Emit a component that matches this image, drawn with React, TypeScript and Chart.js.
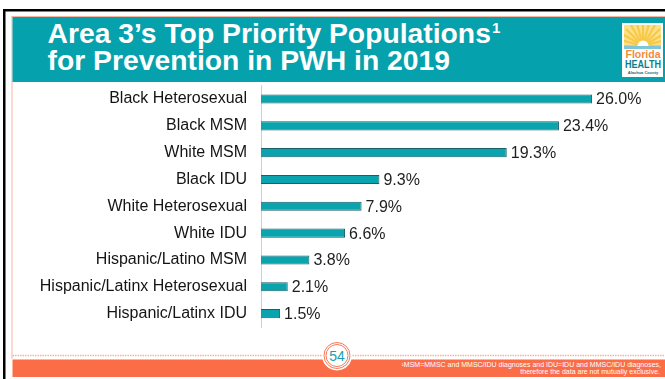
import React, { useEffect, useRef } from "react";
import { Chart, registerables } from "chart.js";

Chart.register(...registerables);

const categories = [
  "Black Heterosexual",
  "Black MSM",
  "White MSM",
  "Black IDU",
  "White Heterosexual",
  "White IDU",
  "Hispanic/Latino MSM",
  "Hispanic/Latinx Heterosexual",
  "Hispanic/Latinx IDU",
];
const percentValues = [26.0, 23.4, 19.3, 9.3, 7.9, 6.6, 3.8, 2.1, 1.5];
const titleLines = ["Area 3\u2019s Top Priority Populations", "for Prevention in PWH in 2019"];
const footnoteLines = [
  "\u00b9MSM=MMSC and MMSC/IDU diagnoses and IDU=IDU and MMSC/IDU diagnoses,",
  "therefore the data are not mutually exclusive.",
];
const pageNumber = "54";

const FONT = "'Liberation Sans', Arial, Helvetica, sans-serif";

const valueLabelPlugin = {
  id: "valueLabels",
  afterDatasetsDraw(chart: any) {
    const ctx = chart.ctx;
    const meta = chart.getDatasetMeta(0);
    const data = chart.data.datasets[0].data as number[];
    ctx.save();
    ctx.font = `16px ${FONT}`;
    ctx.fillStyle = "#1e1e1e";
    ctx.textAlign = "left";
    ctx.textBaseline = "middle";
    meta.data.forEach((bar: any, i: number) => {
      ctx.fillText(data[i].toFixed(1) + "%", bar.x + 4, bar.y + 1);
    });
    ctx.restore();
  },
};

function Logo() {
  const cx = 643;
  const cy = 46;
  const rays = [];
  for (let i = 0; i < 13; i++) {
    const a = Math.PI + (i / 12) * Math.PI;
    rays.push(
      <line
        key={i}
        x1={cx}
        y1={cy}
        x2={cx + Math.cos(a) * 24}
        y2={cy + Math.sin(a) * 24}
        stroke="#f7c948"
        strokeWidth={2.2}
      />
    );
  }
  return (
    <g>
      <rect x={622} y={23} width={41} height={54} fill="#ffffff" />
      <clipPath id="logoclip">
        <rect x={624} y={25} width={37} height={24} />
      </clipPath>
      <g clipPath="url(#logoclip)">
        <rect x={624} y={25} width={37} height={24} fill="#fde08a" />
        {rays}
        <circle cx={cx} cy={cy} r={5.5} fill="#ffffff" />
        <rect x={624} y={46} width={37} height={3} fill="#7fc6d8" />
      </g>
      <text x={643} y={58} textAnchor="middle" fontFamily={FONT} fontSize={10.5} fill="#f58a3c" fontWeight="bold">
        Florida
      </text>
      <text x={643} y={68} textAnchor="middle" fontFamily={FONT} fontSize={10.5} fill="#0a7f8c" fontWeight="bold" textLength={36} lengthAdjust="spacingAndGlyphs">
        HEALTH
      </text>
      <text x={643} y={74} textAnchor="middle" fontFamily={FONT} fontSize={4} fill="#0a6f7c" fontWeight="bold">
        Alachua County
      </text>
    </g>
  );
}

export default function App() {
  const canvasRef = useRef<HTMLCanvasElement | null>(null);

  useEffect(() => {
    document.body.style.margin = "0";
    const canvas = canvasRef.current;
    if (!canvas) return;
    const chart = new Chart(canvas, {
      type: "bar",
      data: {
        labels: categories,
        datasets: [
          {
            data: percentValues,
            backgroundColor: "#0aa4af",
            borderColor: "#1d5f66",
            borderWidth: 1,
            barPercentage: 0.34,
            categoryPercentage: 1,
          },
        ],
      },
      options: {
        indexAxis: "y",
        responsive: false,
        animation: false,
        layout: { padding: { left: 0, top: 85.6, bottom: 52, right: 22 } },
        plugins: { legend: { display: false }, tooltip: { enabled: false } },
        scales: {
          x: { display: false, min: 0, max: 30 },
          y: {
            grid: { display: false, drawTicks: false },
            border: { display: true, color: "#cfcfcf", width: 1 },
            ticks: {
              padding: 14,
              color: "#141414",
              font: { family: FONT, size: 16 },
            },
            afterFit(scale: any) {
              scale.width = 261;
            },
          },
        },
      },
      plugins: [valueLabelPlugin],
    });
    return () => chart.destroy();
  }, []);

  return (
    <div style={{ position: "fixed", left: 0, top: 0, width: 665, height: 379, background: "#ffffff", overflow: "hidden" }}>
      <svg width={665} height={379} style={{ position: "absolute", left: 0, top: 0 }}>
        {/* outer black frame */}
        <rect x={3} y={9} width={662} height={2.5} fill="#000000" />
        <rect x={3} y={9} width={2.5} height={370} fill="#000000" />
        {/* salmon inner outline */}
        <rect x={11.5} y={16} width={654} height={1} fill="#f4b5a3" />
        <rect x={11.5} y={16} width={1} height={343} fill="#f4b5a3" />
        {/* header */}
        <rect x={12.5} y={17} width={653} height={65} fill="#05a1ac" />
        <text x={47.5} y={43} fontFamily={FONT} fontWeight="bold" fontSize={28.3} fill="#ffffff">
          {titleLines[0]}
          <tspan fontSize={15} dy={-10} dx={1}>1</tspan>
        </text>
        <text x={47.5} y={70} fontFamily={FONT} fontWeight="bold" fontSize={28.3} fill="#ffffff">
          {titleLines[1]}
        </text>
        <Logo />
        {/* footer */}
        <line x1={12.5} y1={355.5} x2={665} y2={355.5} stroke="#f5b3a1" strokeWidth={1.5} strokeDasharray="1.5 1" />
        <rect x={12.5} y={359.5} width={653} height={17.5} fill="#fb6d46" />
        <circle cx={337} cy={355.5} r={15} fill="#ffffff" />
        <circle cx={337} cy={355.5} r={13} fill="#ffffff" stroke="#f47a58" strokeWidth={1} />
        <circle cx={337} cy={355.5} r={11} fill="#ffffff" stroke="#f47a58" strokeWidth={1} />
        <text x={337} y={360.5} textAnchor="middle" fontFamily={FONT} fontSize={14} fill="#169fb1">
          {pageNumber}
        </text>
        <text x={661} y={366.5} textAnchor="end" fontFamily={FONT} fontSize={7} fill="#ffffff">
          {footnoteLines[0]}
        </text>
        <text x={660} y={373.8} textAnchor="end" fontFamily={FONT} fontSize={7} fill="#ffffff">
          {footnoteLines[1]}
        </text>
      </svg>
      <canvas ref={canvasRef} width={665} height={379} style={{ position: "absolute", left: 0, top: 0 }} />
    </div>
  );
}
